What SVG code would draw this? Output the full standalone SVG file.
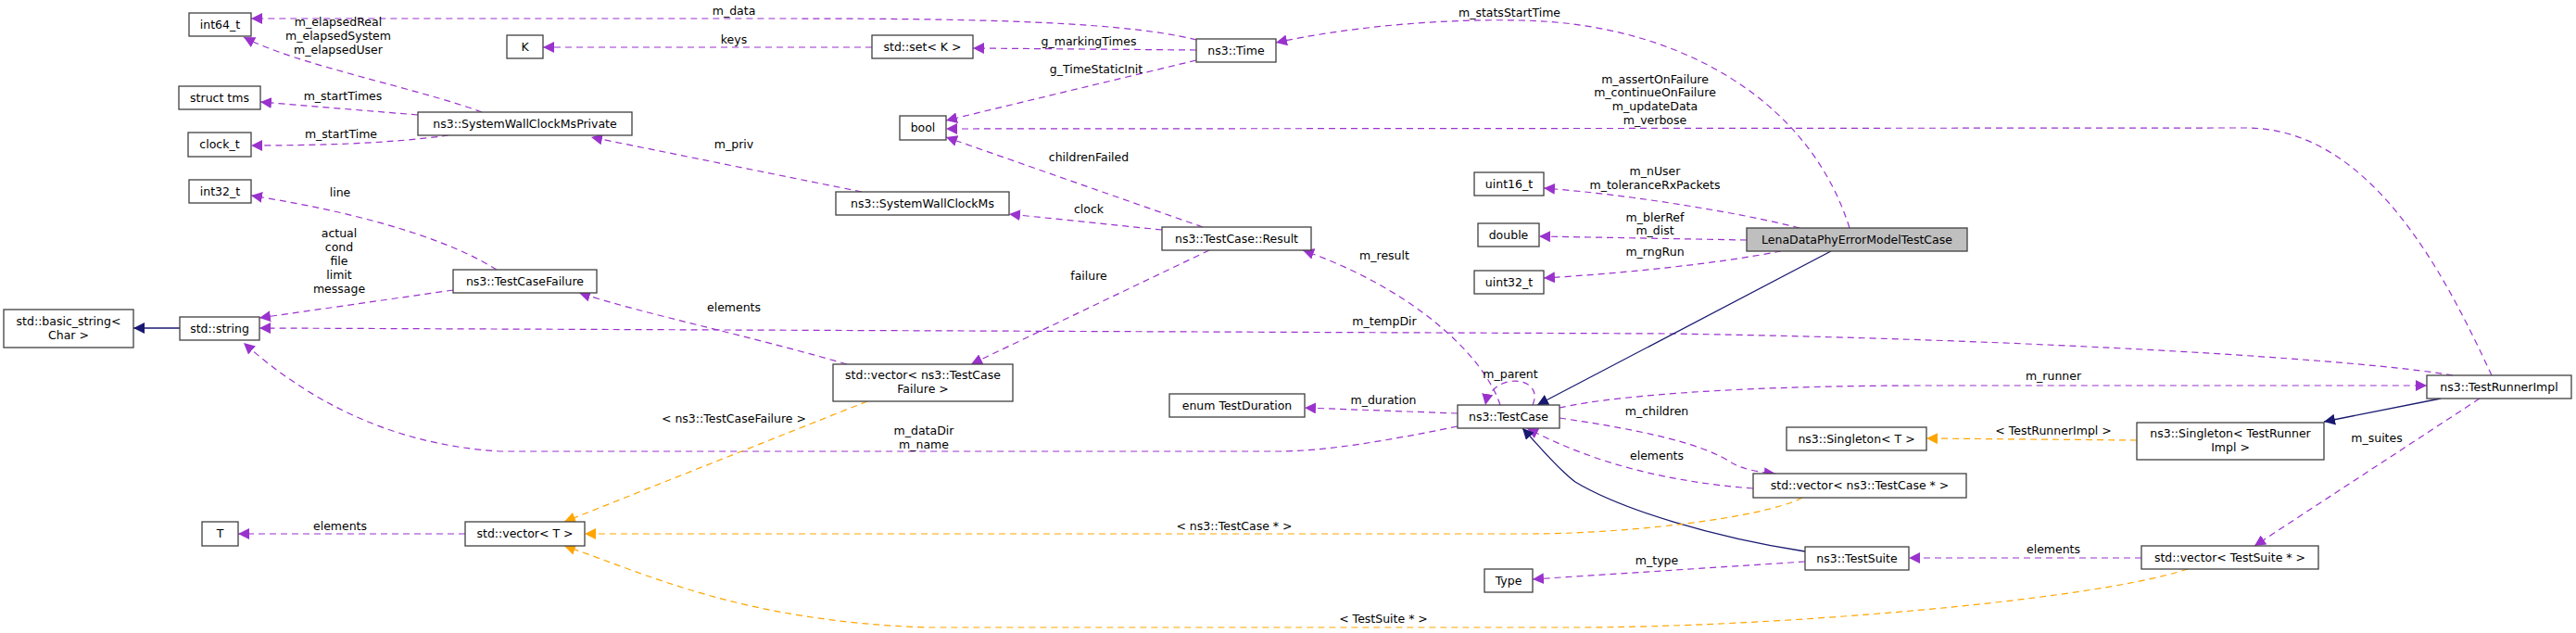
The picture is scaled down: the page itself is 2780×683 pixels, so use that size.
<svg xmlns="http://www.w3.org/2000/svg" width="2780" height="683" viewBox="0 0 2780 683">
<style>
text{font-family:"DejaVu Sans","Liberation Sans",sans-serif;font-size:12.5px;fill:#000}
.n rect{fill:#fff;stroke:#404040;stroke-width:1.3}
.n text{text-anchor:middle}
.l{text-anchor:middle}
.p{fill:none;stroke:#9a32cd;stroke-width:1.2;stroke-dasharray:7,5;marker-end:url(#mp)}
.o{fill:none;stroke:#ffa500;stroke-width:1.2;stroke-dasharray:7,5;marker-end:url(#mo)}
.v{fill:none;stroke:#191970;stroke-width:1.3;marker-end:url(#mv)}
</style>
<defs>
<marker id="mp" viewBox="0 0 10 10" refX="10" refY="5" markerWidth="12" markerHeight="12" markerUnits="userSpaceOnUse" orient="auto"><path d="M0,0L10,5L0,10z" fill="#9a32cd"/></marker>
<marker id="mo" viewBox="0 0 10 10" refX="10" refY="5" markerWidth="12" markerHeight="12" markerUnits="userSpaceOnUse" orient="auto"><path d="M0,0L10,5L0,10z" fill="#ffa500"/></marker>
<marker id="mv" viewBox="0 0 10 10" refX="10" refY="5" markerWidth="12" markerHeight="12" markerUnits="userSpaceOnUse" orient="auto"><path d="M0,0L10,5L0,10z" fill="#191970"/></marker>
</defs>
<g id="connectors">
<path class="p" d="M1291,43 C1200,20 1000,20 800,20 L271,20"/>
<path class="p" d="M941,51 L586,51"/>
<path class="p" d="M1291,54 L1050,52"/>
<path class="p" d="M1291,65 L1021,130"/>
<path class="p" d="M1996,246 C1950,100 1800,24 1640,22 C1550,20 1450,30 1377,46"/>
<path class="p" d="M2689,405 C2640,300 2560,138 2424,138 L1021,139"/>
<path class="p" d="M1298,245 L1021,148"/>
<path class="p" d="M1254,248 L1089,231"/>
<path class="p" d="M930,207 L638,148"/>
<path class="p" d="M520,121 C450,95 320,70 263,40"/>
<path class="p" d="M451,124 L281,110"/>
<path class="p" d="M484,146 C420,155 340,157 271,157"/>
<path class="p" d="M536,291 C470,250 360,225 271,211"/>
<path class="p" d="M489,313 L280,343"/>
<path class="v" d="M194,354 L144,354"/>
<path class="p" d="M2647,405 C2550,388 2200,366 1800,360 L280,354"/>
<path class="p" d="M1573,460 C1500,475 1430,487 1380,487 L540,487 C420,480 330,430 263,370"/>
<path class="p" d="M1619,437 C1600,380 1520,310 1406,270"/>
<path class="p" d="M1654,437 C1668,405 1610,400 1603,437"/>
<path class="p" d="M1573,446 L1408,440"/>
<path class="p" d="M1683,440 C1750,425 1900,416 2080,416 L2619,416"/>
<path class="p" d="M1683,451 C1780,465 1840,480 1870,500 C1880,506 1900,510 1916,511"/>
<path class="p" d="M1892,527 C1800,520 1720,500 1648,462"/>
<path class="v" d="M1948,595 C1850,580 1750,550 1700,520 C1680,505 1660,480 1643,462"/>
<path class="v" d="M1976,271 L1659,437"/>
<path class="p" d="M1942,246 C1880,230 1760,210 1666,203"/>
<path class="p" d="M1885,259 L1661,255"/>
<path class="p" d="M1922,271 C1850,285 1750,295 1666,300"/>
<path class="p" d="M1948,606 L1654,625"/>
<path class="p" d="M2311,602 L2060,602"/>
<path class="p" d="M2676,430 L2433,589"/>
<path class="o" d="M2306,475 L2079,473"/>
<path class="v" d="M2634,430 L2508,455"/>
<path class="o" d="M1945,537 C1900,560 1750,576 1650,576 L631,576"/>
<path class="o" d="M2361,614 C2250,650 1900,677 1700,677 L1000,677 C800,670 700,620 609,589"/>
<path class="o" d="M936,433 L609,563"/>
<path class="p" d="M1305,270 L1048,393"/>
<path class="p" d="M914,393 C800,360 700,340 625,316"/>
<path class="p" d="M502,576 L257,576"/>
</g>
<g class="l">
<text x="792" y="16">m_data</text>
<text x="792" y="47">keys</text>
<text x="1175" y="49">g_markingTimes</text>
<text x="1183" y="79">g_TimeStaticInit</text>
<text x="1629" y="18">m_statsStartTime</text>
<text x="1786" y="90">m_assertOnFailure</text>
<text x="1786" y="104">m_continueOnFailure</text>
<text x="1786" y="119">m_updateData</text>
<text x="1786" y="134">m_verbose</text>
<text x="1786" y="189">m_nUser</text>
<text x="1786" y="204">m_toleranceRxPackets</text>
<text x="1786" y="239">m_blerRef</text>
<text x="1786" y="253">m_dist</text>
<text x="1786" y="276">m_rngRun</text>
<text x="365" y="28">m_elapsedReal</text>
<text x="365" y="43">m_elapsedSystem</text>
<text x="365" y="58">m_elapsedUser</text>
<text x="370" y="108">m_startTimes</text>
<text x="368" y="149">m_startTime</text>
<text x="367" y="212">line</text>
<text x="366" y="256">actual</text>
<text x="366" y="271">cond</text>
<text x="366" y="286">file</text>
<text x="366" y="301">limit</text>
<text x="366" y="316">message</text>
<text x="792" y="160">m_priv</text>
<text x="1175" y="174">childrenFailed</text>
<text x="1175" y="230">clock</text>
<text x="1175" y="302">failure</text>
<text x="792" y="336">elements</text>
<text x="1494" y="280">m_result</text>
<text x="1494" y="351">m_tempDir</text>
<text x="1630" y="408">m_parent</text>
<text x="1493" y="436">m_duration</text>
<text x="1788" y="448">m_children</text>
<text x="1788" y="496">elements</text>
<text x="792" y="456">&lt; ns3::TestCaseFailure &gt;</text>
<text x="997" y="469">m_dataDir</text>
<text x="997" y="484">m_name</text>
<text x="1332" y="572">&lt; ns3::TestCase * &gt;</text>
<text x="367" y="572">elements</text>
<text x="1788" y="609">m_type</text>
<text x="1493" y="672">&lt; TestSuite * &gt;</text>
<text x="2216" y="410">m_runner</text>
<text x="2216" y="469">&lt; TestRunnerImpl &gt;</text>
<text x="2565" y="477">m_suites</text>
<text x="2216" y="597">elements</text>
</g>
<g id="n_int64" class="n"><rect x="204" y="14" width="67" height="25"/><text x="237.5" y="31">int64_t</text></g>
<g id="n_K" class="n"><rect x="547" y="38" width="39" height="25"/><text x="566.5" y="55">K</text></g>
<g id="n_set" class="n"><rect x="941" y="38" width="109" height="25"/><text x="995.5" y="55">std::set&lt; K &gt;</text></g>
<g id="n_time" class="n"><rect x="1291" y="42" width="86" height="25"/><text x="1334" y="59">ns3::Time</text></g>
<g id="n_tms" class="n"><rect x="193" y="93" width="88" height="25"/><text x="237" y="110">struct tms</text></g>
<g id="n_swcmp" class="n"><rect x="451" y="121" width="231" height="25"/><text x="566.5" y="138">ns3::SystemWallClockMsPrivate</text></g>
<g id="n_clock" class="n"><rect x="203" y="143" width="68" height="26"/><text x="237" y="160">clock_t</text></g>
<g id="n_bool" class="n"><rect x="971" y="125" width="50" height="26"/><text x="996" y="142">bool</text></g>
<g id="n_int32" class="n"><rect x="204" y="194" width="67" height="25"/><text x="237.5" y="211">int32_t</text></g>
<g id="n_swcm" class="n"><rect x="902" y="207" width="187" height="25"/><text x="995.5" y="224">ns3::SystemWallClockMs</text></g>
<g id="n_result" class="n"><rect x="1254" y="245" width="161" height="25"/><text x="1334.5" y="262">ns3::TestCase::Result</text></g>
<g id="n_tcf" class="n"><rect x="489" y="291" width="155" height="25"/><text x="566.5" y="308">ns3::TestCaseFailure</text></g>
<g id="n_uint16" class="n"><rect x="1591" y="186" width="75" height="25"/><text x="1628.5" y="203">uint16_t</text></g>
<g id="n_double" class="n"><rect x="1595" y="241" width="66" height="25"/><text x="1628" y="258">double</text></g>
<g id="n_uint32" class="n"><rect x="1591" y="292" width="75" height="25"/><text x="1628.5" y="309">uint32_t</text></g>
<g id="n_lena" class="n"><rect x="1885" y="246" width="238" height="25" style="fill:#bfbfbf"/><text x="2004" y="263">LenaDataPhyErrorModelTestCase</text></g>
<g id="n_basic" class="n"><rect x="4" y="334" width="140" height="41"/><text x="74" y="351">std::basic_string&lt;</text><text x="74" y="366">Char &gt;</text></g>
<g id="n_string" class="n"><rect x="194" y="342" width="86" height="25"/><text x="237" y="359">std::string</text></g>
<g id="n_vtcf" class="n"><rect x="899" y="393" width="194" height="40"/><text x="996" y="409">std::vector&lt; ns3::TestCase</text><text x="996" y="424">Failure &gt;</text></g>
<g id="n_dur" class="n"><rect x="1262" y="425" width="146" height="25"/><text x="1335" y="442">enum TestDuration</text></g>
<g id="n_tc" class="n"><rect x="1573" y="437" width="110" height="25"/><text x="1628" y="454">ns3::TestCase</text></g>
<g id="n_tri" class="n"><rect x="2619" y="405" width="156" height="25"/><text x="2697" y="422">ns3::TestRunnerImpl</text></g>
<g id="n_singT" class="n"><rect x="1928" y="461" width="151" height="25"/><text x="2003.5" y="478">ns3::Singleton&lt; T &gt;</text></g>
<g id="n_singTRI" class="n"><rect x="2306" y="456" width="202" height="40"/><text x="2407" y="472">ns3::Singleton&lt; TestRunner</text><text x="2407" y="487">Impl &gt;</text></g>
<g id="n_vtc" class="n"><rect x="1892" y="511" width="230" height="26"/><text x="2007" y="528">std::vector&lt; ns3::TestCase * &gt;</text></g>
<g id="n_T" class="n"><rect x="218" y="563" width="39" height="26"/><text x="237.5" y="580">T</text></g>
<g id="n_vT" class="n"><rect x="502" y="563" width="129" height="26"/><text x="566.5" y="580">std::vector&lt; T &gt;</text></g>
<g id="n_suite" class="n"><rect x="1948" y="590" width="112" height="25"/><text x="2004" y="607">ns3::TestSuite</text></g>
<g id="n_type" class="n"><rect x="1602" y="614" width="52" height="25"/><text x="1628" y="631">Type</text></g>
<g id="n_vts" class="n"><rect x="2311" y="589" width="191" height="25"/><text x="2406.5" y="606">std::vector&lt; TestSuite * &gt;</text></g>
</svg>
